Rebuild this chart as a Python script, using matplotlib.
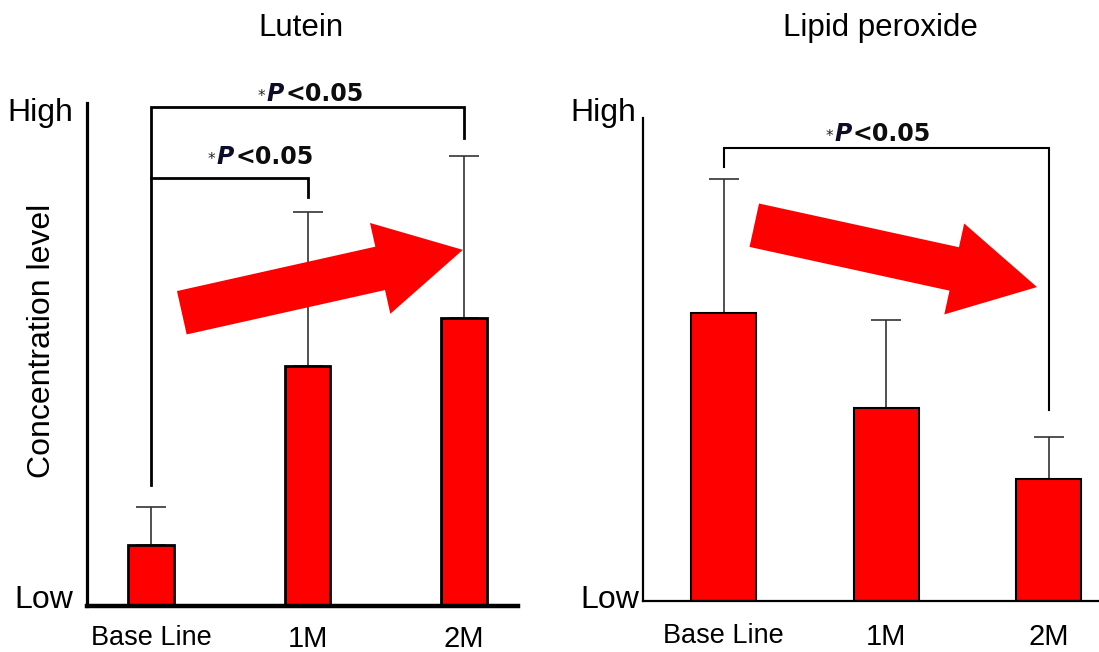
import matplotlib.pyplot as plt
from matplotlib.offsetbox import TextArea, HPacker, AnnotationBbox

plt.rcParams['font.family'] = ['Liberation Sans', 'DejaVu Sans']

groups = ['Base Line', '1M', '2M']
lutein_mean = [12.1, 47.7, 57.3]
lutein_err = [7.6, 30.6, 32.2]
lipid_mean = [59.6, 40.0, 25.3]
lipid_err = [27.8, 18.2, 8.7]

# significance brackets: (left bar, right bar, bracket level, left end, right end)
lutein_sig = [(0, 2, 99.2, 24.0, 93.0), (0, 1, 85.1, 85.1, 81.3)]
lipid_sig = [(0, 2, 93.8, 89.9, 39.5)]

W, H = 1099, 652
fig = plt.figure(figsize=(W / 100, H / 100), dpi=100)
ax1 = fig.add_axes([87 / W, 46 / H, 431 / W, 503 / H])
ax2 = fig.add_axes([643 / W, 51 / H, 456 / W, 483 / H])


def p_label(ax, x, y):
    parts = HPacker(children=[
        TextArea('*', textprops=dict(size=11, family='DejaVu Sans', color='#222222')),
        TextArea('P', textprops=dict(size=17, weight='bold', style='italic',
                                     family='DejaVu Sans', color='#0d0d2a')),
        TextArea('<0.05', textprops=dict(size=17, weight='bold', family='DejaVu Sans',
                                         color='#0d0d0d')),
    ], align='baseline', pad=0, sep=1)
    ab = AnnotationBbox(parts, (x, y), xycoords='data', box_alignment=(0.5, 0.0),
                        frameon=False, pad=0, annotation_clip=False)
    ax.add_artist(ab)


def panel(ax, means, errs, sig, width, lw, xl, tick_pad):
    x = range(len(groups))
    ax.bar(x, means, width=width, color='#ff0000', edgecolor='black', linewidth=lw, zorder=2)
    ax.errorbar(x, means, yerr=[[0] * len(errs), errs], fmt='none', ecolor='#333333',
                elinewidth=1.2, capsize=11, capthick=1.2, zorder=1)
    for a, b, level, left_end, right_end in sig:
        ax.plot([a, a, b, b], [left_end, level, level, right_end], color='black',
                lw=lw, solid_joinstyle='miter', zorder=3, clip_on=False)
    ax.set_xlim(*xl)
    ax.set_ylim(0, 100)
    ax.spines['top'].set_visible(False)
    ax.spines['right'].set_visible(False)
    ax.set_yticks([])
    ax.set_xticks(list(x), groups)
    ax.tick_params(axis='x', length=0, pad=tick_pad)
    for lab in ax.get_xticklabels():
        lab.set_fontsize(19.5 if lab.get_text() == 'Base Line' else 21)


panel(ax1, lutein_mean, lutein_err, lutein_sig, 0.29, 2.0, (-0.409, 2.345), 14)
panel(ax2, lipid_mean, lipid_err, lipid_sig, 0.40, 1.5, (-0.498, 2.31), 16)

ax1.spines['left'].set_linewidth(2.3)
ax1.spines['bottom'].set_linewidth(3.2)
ax2.spines['left'].set_linewidth(1.6)
ax2.spines['bottom'].set_linewidth(1.6)

# p-value labels
p_label(ax1, 1.02, 99.5)
p_label(ax1, 0.70, 86.9)
p_label(ax2, 0.95, 94.2)

# titles
fig.text(301 / W, 1 - 28 / H, 'Lutein', fontsize=22.5, ha='center', va='center')
fig.text(880 / W, 1 - 28 / H, 'Lipid peroxide', fontsize=22.5, ha='center', va='center')
fig.text(42 / W, 1 - 341 / H, 'Concentration level', fontsize=23, rotation=90,
         ha='center', va='center')

# High / Low labels
fig.text(40 / W, 1 - 113 / H, 'High', fontsize=23, ha='center', va='center')
fig.text(44 / W, 1 - 600 / H, 'Low', fontsize=23, ha='center', va='center')
fig.text(603 / W, 1 - 113 / H, 'High', fontsize=23, ha='center', va='center')
fig.text(610 / W, 1 - 600 / H, 'Low', fontsize=23, ha='center', va='center')

# trend arrows
arrow_style = 'simple,head_width=0.67,head_length=0.61,tail_width=0.32'
ax1.annotate('', xy=(0.872, 0.708), xytext=(0.220, 0.583), xycoords='axes fraction',
             textcoords='axes fraction',
             arrowprops=dict(arrowstyle=arrow_style, mutation_scale=100, color='#ff0000',
                             lw=0, shrinkA=0, shrinkB=0), zorder=4)
ax2.annotate('', xy=(0.864, 0.650), xytext=(0.244, 0.778), xycoords='axes fraction',
             textcoords='axes fraction',
             arrowprops=dict(arrowstyle=arrow_style, mutation_scale=100, color='#ff0000',
                             lw=0, shrinkA=0, shrinkB=0), zorder=4)

fig.savefig('out.png', dpi=100)
